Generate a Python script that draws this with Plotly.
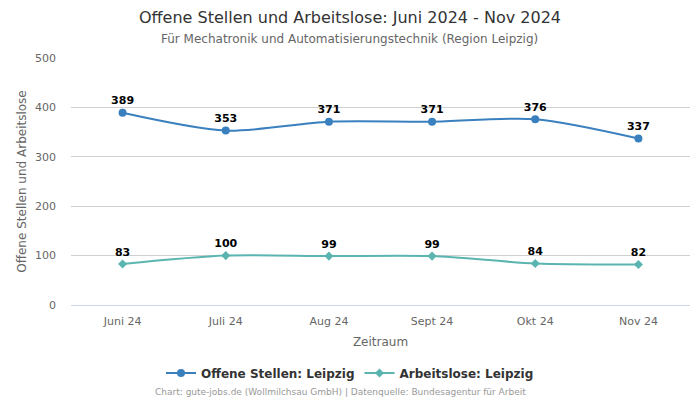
import plotly.graph_objects as go

months = ["Juni 24", "Juli 24", "Aug 24", "Sept 24", "Okt 24", "Nov 24"]
offene = [389, 353, 371, 371, 376, 337]
arbeitslose = [83, 100, 99, 99, 84, 82]

FONT = "DejaVu Sans"
L, R, T, B, W, H = 71, 10, 58, 95, 700, 400
PW, PH = W - L - R, H - T - B


def px_x(x):
    return (x - L) / PW


def px_y(y):
    return (H - B - y) / PH


fig = go.Figure()
fig.add_trace(go.Scatter(
    x=months, y=offene, name="Offene Stellen: Leipzig",
    mode="lines+markers+text", line=dict(color="#3a80bf", width=2, shape="spline", smoothing=0.8),
    marker=dict(symbol="circle", size=8, color="#3a80bf"),
    text=[str(v) for v in offene], textposition="top center",
    textfont=dict(family=FONT, size=11, color="#000000", weight="bold"),
    cliponaxis=False,
))
fig.add_trace(go.Scatter(
    x=months, y=arbeitslose, name="Arbeitslose: Leipzig",
    mode="lines+markers+text", line=dict(color="#5ab5b0", width=2, shape="spline", smoothing=0.8),
    marker=dict(symbol="diamond", size=7, color="#5ab5b0"),
    text=[str(v) for v in arbeitslose], textposition="top center",
    textfont=dict(family=FONT, size=11, color="#000000", weight="bold"),
    cliponaxis=False,
))

fig.update_layout(
    width=W, height=H,
    margin=dict(l=L, r=R, t=T, b=B),
    paper_bgcolor="white", plot_bgcolor="white",
    font=dict(family=FONT, color="#666666", size=11),
    xaxis=dict(
        title=dict(text="Zeitraum", font=dict(family=FONT, size=12, color="#666666"), standoff=10),
        type="category", range=[-0.5, 5.5],
        showgrid=False, showline=True, linecolor="#ccd6eb", linewidth=1,
        ticks="", ticklabelstandoff=6, tickfont=dict(family=FONT, size=11, color="#666666"),
        fixedrange=True,
    ),
    yaxis=dict(
        title=dict(text="Offene Stellen und Arbeitslose", font=dict(family=FONT, size=12, color="#666666"), standoff=5),
        range=[0, 500], dtick=100, showgrid=True, gridcolor="#d0d0d0", gridwidth=1,
        zeroline=False, showline=False, ticks="", ticklabelstandoff=14,
        tickfont=dict(family=FONT, size=11, color="#666666"),
    ),
    legend=dict(
        orientation="h", x=px_x(350), xanchor="center", y=px_y(373), yanchor="middle",
        font=dict(family=FONT, size=12, color="#333333", weight="bold"),
    ),
    showlegend=True,
)

fig.add_annotation(
    text="Offene Stellen und Arbeitslose: Juni 2024 - Nov 2024",
    xref="paper", yref="paper", x=px_x(350), xanchor="center", y=px_y(17), yanchor="middle",
    showarrow=False, font=dict(family=FONT, size=16, color="#333333"),
)
fig.add_annotation(
    text="Für Mechatronik und Automatisierungstechnik (Region Leipzig)",
    xref="paper", yref="paper", x=px_x(349), xanchor="center", y=px_y(39), yanchor="middle",
    showarrow=False, font=dict(family=FONT, size=12, color="#666666"),
)
fig.add_annotation(
    text="Chart: gute-jobs.de (Wollmilchsau GmbH) | Datenquelle: Bundesagentur für Arbeit",
    xref="paper", yref="paper", x=px_x(340), xanchor="center", y=px_y(392), yanchor="middle",
    showarrow=False, font=dict(family=FONT, size=9, color="#999999"),
)

fig.write_html("out.html")
